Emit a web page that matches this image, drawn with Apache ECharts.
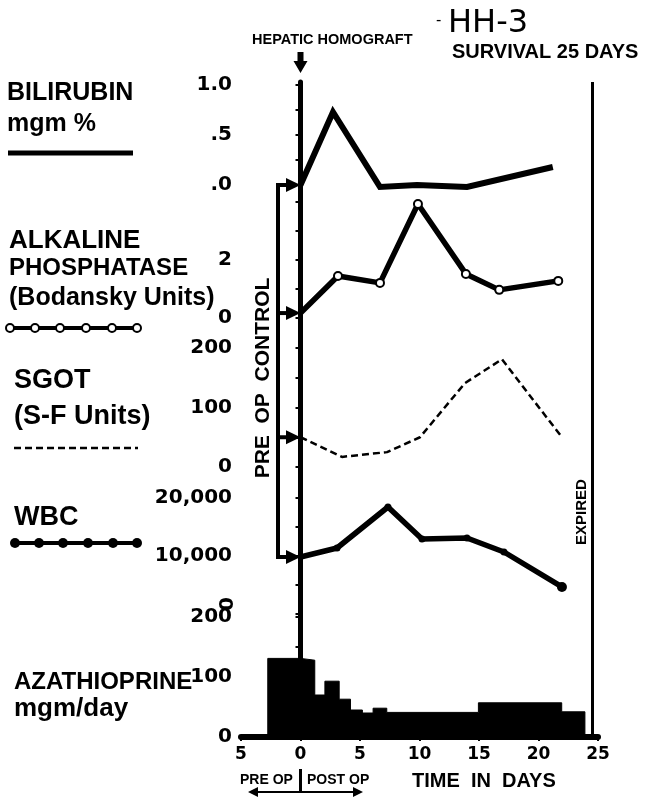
<!DOCTYPE html>
<html>
<head>
<meta charset="utf-8">
<script src="https://cdn.jsdelivr.net/npm/echarts@6/dist/echarts.min.js"></script>
<style>
  html, body { margin: 0; padding: 0; background: #fff; }
  #chart { width: 646px; height: 803px; }
</style>
</head>
<body>
<div id="chart"></div>
<script>
// days after operation for each measurement
const biliDays = [0, 2.73, 6.68, 9.79, 13.99, 21.2];
const biliValues = [0, 0.73, -0.02, 0.0, -0.02, 0.18];

const alkDays = [0, 3.15, 6.68, 9.87, 13.9, 16.7, 21.66];
const alkValues = [0.17, 1.45, 1.21, 3.93, 1.52, 0.97, 1.28];

const sgotDays = [0, 3.49, 7.27, 10.04, 13.82, 16.93, 21.89];
const sgotValues = [50, 17, 25, 50, 141, 181, 52];

const wbcDays = [0, 3.07, 7.35, 10.21, 13.99, 17.1, 21.97];
const wbcValues = [9830, 11380, 18450, 12930, 13100, 10690, 4660];

// azathioprine dose, each value holds until the next day in the list
const azaDays = [-5, -2.75, 0, 1.2, 2.05, 3.25, 4.2, 5.2, 6.1, 7.25, 14.95, 21.95, 23.9, 24.5];
const azaDoses = [0, 131, 128, 70, 93, 63, 45, 40, 48, 41, 57, 42, 0, 0];

const expiredDay = 24.55;

const zip = (xs, ys) => xs.map((x, i) => [x, ys[i]]);

const chart = echarts.init(document.getElementById('chart'));

const LEFT = 241;
const WIDTH = 357;
const tickFont = { color: '#000', fontFamily: 'DejaVu Sans', fontWeight: 'bold', fontSize: 20, margin: 9 };

function xAx(show) {
  return {
    type: 'value', min: -5, max: 25, interval: 5, show: show,
    axisLine: { show: show, lineStyle: { color: '#000', width: 6 } },
    axisTick: { show: show, length: 4, lineStyle: { color: '#000', width: 2 } },
    axisLabel: {
      show: show, color: '#000', fontFamily: 'DejaVu Sans', fontWeight: 'bold', fontSize: 17, margin: 9,
      formatter: (v) => String(Math.abs(v))
    },
    splitLine: { show: false }
  };
}

function yAx(min, max, interval, labels) {
  return {
    type: 'value', min: min, max: max, interval: interval,
    axisLine: { show: false },
    axisTick: { show: true, length: 5, lineStyle: { color: '#000', width: 2 } },
    axisLabel: Object.assign({}, tickFont, {
      formatter: (v) => (labels[v] !== undefined ? labels[v] : '')
    }),
    splitLine: { show: false }
  };
}

const option = {
  animation: false,
  backgroundColor: '#fff',
  grid: [
    { left: LEFT, width: WIDTH, top: 82, height: 655 },   // overlay: left axis, day 0 and expiry lines
    { left: LEFT, width: WIDTH, top: 85, height: 100 },   // bilirubin
    { left: LEFT, width: WIDTH, top: 202, height: 116 },  // alkaline phosphatase
    { left: LEFT, width: WIDTH, top: 348, height: 119 },  // SGOT
    { left: LEFT, width: WIDTH, top: 498, height: 116 },  // WBC
    { left: LEFT, width: WIDTH, top: 617, height: 120 }   // azathioprine
  ],
  xAxis: [
    Object.assign(xAx(false), { gridIndex: 0 }),
    Object.assign(xAx(false), { gridIndex: 1 }),
    Object.assign(xAx(false), { gridIndex: 2 }),
    Object.assign(xAx(false), { gridIndex: 3 }),
    Object.assign(xAx(false), { gridIndex: 4 }),
    Object.assign(xAx(true), { gridIndex: 5 })
  ],
  yAxis: [
    {
      gridIndex: 0, type: 'value', min: 0, max: 1,
      axisLine: { show: true, lineStyle: { color: '#000', width: 5 } },
      axisTick: { show: false }, axisLabel: { show: false }, splitLine: { show: false }
    },
    Object.assign(yAx(0, 1, 0.25, { 0: '.0', 0.5: '.5', 1: '1.0' }), { gridIndex: 1 }),
    Object.assign(yAx(0, 4, 1, { 0: '0', 2: '2' }), { gridIndex: 2 }),
    Object.assign(yAx(0, 200, 50, { 0: '0', 100: '100', 200: '200' }), { gridIndex: 3 }),
    Object.assign(yAx(0, 20000, 5000, { 10000: '10,000', 20000: '20,000' }), { gridIndex: 4 }),
    Object.assign(yAx(0, 200, 50, { 0: '0', 100: '100', 200: '200' }), { gridIndex: 5 })
  ],
  series: [
    {
      name: 'markers', type: 'line', xAxisIndex: 0, yAxisIndex: 0, data: [],
      markLine: {
        silent: true, symbol: 'none', label: { show: false },
        data: [
          { xAxis: 0, lineStyle: { color: '#000', width: 2, type: 'solid' } },
          { xAxis: expiredDay, lineStyle: { color: '#000', width: 3, type: 'solid' } }
        ]
      }
    },
    {
      name: 'Bilirubin', type: 'line', xAxisIndex: 1, yAxisIndex: 1, clip: false,
      data: zip(biliDays, biliValues), symbol: 'none',
      lineStyle: { color: '#000', width: 6, join: 'miter' }
    },
    {
      name: 'Alkaline Phosphatase', type: 'line', xAxisIndex: 2, yAxisIndex: 2,
      data: zip(alkDays, alkValues).map((p, i) => (i === 0 ? { value: p, symbol: 'none' } : p)),
      symbol: 'circle', symbolSize: 8,
      itemStyle: { color: '#fff', borderColor: '#000', borderWidth: 2 },
      lineStyle: { color: '#000', width: 5.5 }
    },
    {
      name: 'SGOT', type: 'line', xAxisIndex: 3, yAxisIndex: 3,
      data: zip(sgotDays, sgotValues), symbol: 'none',
      lineStyle: { color: '#000', width: 2.5, type: [7, 4] }
    },
    {
      name: 'WBC', type: 'line', xAxisIndex: 4, yAxisIndex: 4,
      data: zip(wbcDays, wbcValues).map((p, i, a) => (i === a.length - 1 ? { value: p, symbolSize: 10 } : (i === 0 ? { value: p, symbol: 'none' } : p))),
      symbol: 'circle', symbolSize: 7,
      itemStyle: { color: '#000' },
      lineStyle: { color: '#000', width: 5.5 }
    },
    {
      name: 'Azathioprine', type: 'line', xAxisIndex: 5, yAxisIndex: 5, step: 'end',
      data: zip(azaDays, azaDoses), symbol: 'none',
      lineStyle: { color: '#000', width: 1 },
      areaStyle: { color: '#000', opacity: 1 }
    }
  ]
};

chart.setOption(option);

// annotations placed from the chart's own scales
const px = (gi, p) => chart.convertToPixel({ gridIndex: gi }, p);
const x0 = px(1, [0, 0])[0];
const yBili = px(1, [0, biliValues[0]])[1];
const yAlk = px(2, [0, alkValues[0]])[1];
const ySgot = px(3, [0, sgotValues[0]])[1];
const yWbc = px(4, [0, wbcValues[0]])[1];

function txt(x, y, text, size, extra) {
  return Object.assign({
    type: 'text', x: x, y: y,
    style: Object.assign({
      text: text, fontSize: size, fontWeight: 'bold', fontFamily: 'Liberation Sans',
      fill: '#000', align: 'left', verticalAlign: 'middle'
    }, (extra && extra.style) || {})
  }, extra && extra.el ? extra.el : {});
}
function seg(x1, y1, x2, y2, w, dash) {
  return { type: 'line', shape: { x1, y1, x2, y2 }, style: { stroke: '#000', lineWidth: w, lineDash: dash || null } };
}
function tri(points) {
  return { type: 'polygon', shape: { points }, style: { fill: '#000' } };
}

const bx = 278;
const graphics = [
  // titles
  txt(252, 40, 'HEPATIC HOMOGRAFT', 14.5),
  txt(436, 21, '-', 16, { style: { fontWeight: 'normal' } }),
  txt(448, 24, 'HH-3', 32, { style: { fontWeight: 'normal', fontFamily: 'DejaVu Sans' } }),
  txt(452, 52, 'SURVIVAL 25 DAYS', 20),
  { type: 'polygon', shape: { points: [[x0 - 3, 52], [x0 + 3, 52], [x0 + 3, 61], [x0 + 7, 61], [x0, 73], [x0 - 7, 61], [x0 - 3, 61]] }, style: { fill: '#000' } },

  // left legend labels
  txt(7, 93, 'BILIRUBIN', 25),
  txt(7, 124, 'mgm %', 25),
  seg(8, 153, 133, 153, 5),
  txt(9, 241, 'ALKALINE', 26),
  txt(9, 268, 'PHOSPHATASE', 24),
  txt(9, 298, '(Bodansky Units)', 25),
  seg(10, 328, 137, 328, 4),
  txt(14, 381, 'SGOT', 27),
  txt(14, 417, '(S-F Units)', 27),
  seg(14, 448, 138, 448, 2.5, [7, 4]),
  txt(14, 518, 'WBC', 27),
  seg(14, 543, 138, 543, 4),
  txt(14, 682, 'AZATHIOPRINE', 24),
  txt(14, 709, 'mgm/day', 26),

  // sideways zero of the WBC scale
  txt(228, 604, '0', 20, { style: { fontFamily: 'DejaVu Sans', align: 'center' }, el: { rotation: Math.PI / 2 } }),

  // pre-op control bracket
  { type: 'polyline', shape: { points: [[bx + 10, yBili], [bx, yBili], [bx, yWbc], [bx + 10, yWbc]] }, style: { stroke: '#000', lineWidth: 4, fill: null } },
  seg(bx, yAlk, bx + 10, yAlk, 4),
  seg(bx, ySgot, bx + 10, ySgot, 4),
  txt(263, 378, 'PRE  OP  CONTROL', 21, { style: { align: 'center' }, el: { rotation: Math.PI / 2 } }),

  // expired
  txt(582, 512, 'EXPIRED', 15, { style: { align: 'center' }, el: { rotation: Math.PI / 2 } }),

  // bottom captions
  txt(240, 780, 'PRE OP', 14),
  txt(307, 780, 'POST OP', 14),
  seg(x0, 769, x0, 792, 3),
  seg(254, 792, 357, 792, 2),
  tri([[248, 792], [258, 787], [258, 797]]),
  tri([[363, 792], [353, 787], [353, 797]]),
  txt(412, 781, 'TIME  IN  DAYS', 20)
];

[yBili, yAlk, ySgot, yWbc].forEach((y) => {
  graphics.push(tri([[bx + 8, y - 7], [x0, y], [bx + 8, y + 7]]));
});

[10, 35, 60, 86, 112, 137].forEach((cx) => {
  graphics.push({ type: 'circle', shape: { cx: cx, cy: 328, r: 4 }, style: { fill: '#fff', stroke: '#000', lineWidth: 2 } });
});
[15, 39, 63, 88, 113, 137].forEach((cx) => {
  graphics.push({ type: 'circle', shape: { cx: cx, cy: 543, r: 5 }, style: { fill: '#000' } });
});

chart.setOption({ graphic: graphics });
</script>
</body>
</html>
